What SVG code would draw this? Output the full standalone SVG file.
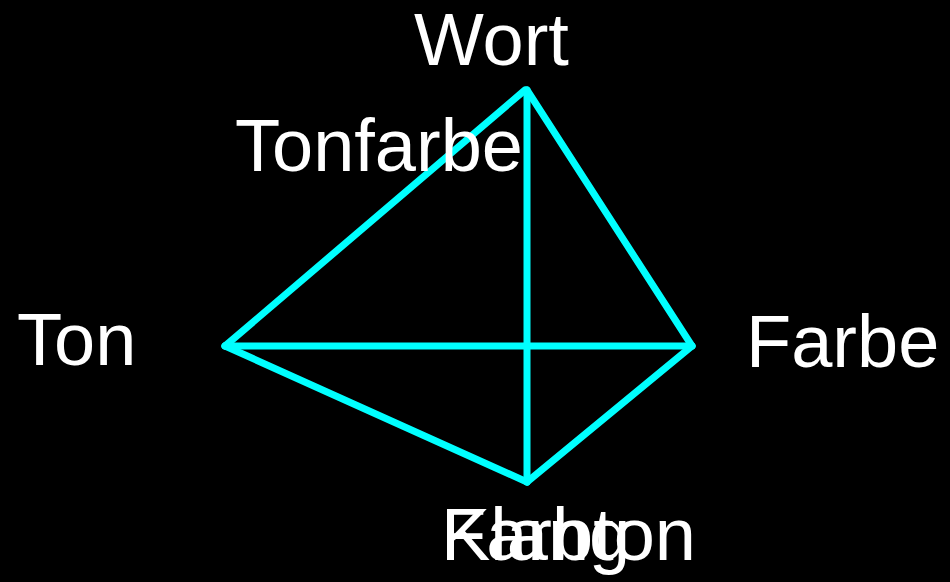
<svg xmlns="http://www.w3.org/2000/svg" width="950" height="582" viewBox="0 0 950 582">
<style>
.lbl{font-family:"Liberation Sans",Arial,sans-serif;font-size:74px;fill:#ffffff}
.edge{stroke:#00ffff;stroke-width:7;fill:none;stroke-linecap:round}
</style>
<rect width="950" height="582" fill="#000000"/>
<g id="connectors">
<line class="edge" x1="525" y1="90" x2="225" y2="346"/>
<line class="edge" x1="527" y1="90" x2="692" y2="346"/>
<line class="edge" x1="527" y1="90" x2="527" y2="482"/>
<line class="edge" x1="225" y1="346" x2="692" y2="346"/>
<line class="edge" x1="225" y1="346" x2="527" y2="482"/>
<line class="edge" x1="692" y1="346" x2="527" y2="482"/>
</g>
<g id="wort"><text class="lbl" x="414" y="65">Wort</text></g>
<g id="tonfarbe"><text class="lbl" x="235" y="171">Tonfarbe</text></g>
<g id="ton"><text class="lbl" x="17" y="365">Ton</text></g>
<g id="farbe"><text class="lbl" x="746" y="367">Farbe</text></g>
<g id="klang"><text class="lbl" x="441" y="560">Klang</text></g>
<g id="farbton"><text class="lbl" x="441" y="560">Farbton</text></g>
</svg>
